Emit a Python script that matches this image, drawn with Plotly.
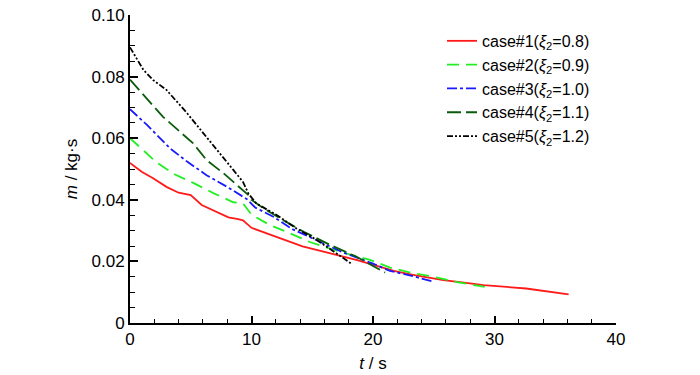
import plotly.graph_objects as go

# ---- data ----
t1 = [0, 0.96, 1.9, 3.0, 4.0, 5.0, 5.9, 7.1, 8.1, 8.9, 9.3, 10.0, 10.7, 12.3, 14.2, 16.5, 18.7, 20.6, 21.7, 23.5, 25.8, 27.5, 29.1, 32.6, 36.1]
m1 = [0.052, 0.0491, 0.047, 0.0442, 0.0423, 0.0415, 0.0383, 0.0361, 0.0343, 0.0337, 0.0333, 0.0309, 0.0299, 0.0274, 0.0249, 0.0226, 0.0204, 0.0182, 0.0169, 0.0155, 0.0139, 0.0131, 0.0123, 0.0112, 0.0093]

t2 = [0, 1.0, 2.2, 3.7, 5.2, 6.9, 8.5, 9.3, 10.0, 11.5, 12.9, 14.8, 17.3, 19.75, 21.4, 23.0, 25.0, 26.9, 28.7, 29.2]
m2 = [0.060, 0.0565, 0.0521, 0.0482, 0.0455, 0.0421, 0.0392, 0.0388, 0.0352, 0.0318, 0.0296, 0.0263, 0.0231, 0.0205, 0.018, 0.0164, 0.015, 0.0133, 0.012, 0.0117]

t3 = [0, 1.4, 3.3, 4.7, 6.3, 8.0, 9.3, 9.6, 10.3, 11.8, 13.4, 15.4, 17.6, 20.0, 21.4, 23.0, 24.9]
m3 = [0.0694, 0.0643, 0.0567, 0.0524, 0.048, 0.0442, 0.041, 0.0403, 0.0375, 0.0345, 0.0304, 0.0269, 0.0228, 0.0193, 0.0169, 0.0155, 0.0135]

t4 = [0, 1.1, 2.7, 5.2, 6.3, 7.7, 8.8, 9.75, 10.0, 11.0, 12.6, 14.3, 16.5, 18.65, 20.0, 21.0]
m4 = [0.079, 0.074, 0.067, 0.0583, 0.0529, 0.0486, 0.0448, 0.0415, 0.040, 0.0372, 0.0334, 0.0296, 0.0253, 0.0215, 0.0185, 0.0164]

t5 = [0, 1.1, 1.9, 3.0, 4.7, 6.3, 7.4, 8.5, 9.3, 9.75, 10.4, 12.1, 13.7, 15.4, 17.0, 18.2]
m5 = [0.0895, 0.0822, 0.0789, 0.0757, 0.0681, 0.0605, 0.0551, 0.0497, 0.0458, 0.0420, 0.0388, 0.035, 0.0307, 0.0269, 0.0226, 0.0193]

names = ["case#1(<i>ξ</i><sub>2</sub>=0.8)", "case#2(<i>ξ</i><sub>2</sub>=0.9)",
         "case#3(<i>ξ</i><sub>2</sub>=1.0)", "case#4(<i>ξ</i><sub>2</sub>=1.1)",
         "case#5(<i>ξ</i><sub>2</sub>=1.2)"]

y_tickvals = [0, 0.02, 0.04, 0.06, 0.08, 0.10]
y_ticktext = ["0", "0.02", "0.04", "0.06", "0.08", "0.10"]
x_tickvals = [0, 10, 20, 30, 40]

FONT = "Liberation Sans, Arial, sans-serif"

colors = ["#ff1a1a", "#22ee22", "#1a1aff", "#0a5c0a", "#000000"]
dashes = ["solid", "12px,7px", "10px,3px,3px,3px", "14px,5px", "6px,2px,2px,2px,2px,2px"]

fig = go.Figure()
for t, m, n, c, d in zip([t1, t2, t3, t4, t5], [m1, m2, m3, m4, m5], names, colors, dashes):
    fig.add_trace(go.Scatter(x=t, y=m, mode="lines", name=n,
                             line=dict(color=c, width=1.8, dash=d)))

fig.update_layout(
    width=700, height=375,
    margin=dict(l=130, r=84, t=15, b=52, autoexpand=False),
    paper_bgcolor="white", plot_bgcolor="white",
    font=dict(family=FONT, size=17, color="#000000"),
    showlegend=True,
    legend=dict(x=0.642, y=0.971, xanchor="left", yanchor="top",
                bgcolor="rgba(0,0,0,0)", font=dict(size=16, family=FONT),
                tracegroupgap=0),
)
fig.update_xaxes(
    range=[0, 40], tickmode="array", tickvals=x_tickvals, automargin=False,
    ticklabeloverflow="allow",
    showline=True, linecolor="black", linewidth=2, mirror=False,
    ticks="inside", ticklen=7, tickwidth=1.5, tickcolor="black",
    minor=dict(ticks="inside", ticklen=4, tickwidth=1.2, tickcolor="black", dtick=2, tick0=0),
    showgrid=False, zeroline=False,
    title=dict(text="<i>t</i> / s", font=dict(size=17, family=FONT), standoff=9),
)
fig.update_yaxes(
    range=[0, 0.10], tickmode="array", tickvals=y_tickvals, ticktext=y_ticktext, automargin=False,
    ticklabeloverflow="allow",
    showline=True, linecolor="black", linewidth=2, mirror=False,
    ticks="inside", ticklen=8, tickwidth=1.5, tickcolor="black",
    minor=dict(ticks="inside", ticklen=5, tickwidth=1.2, tickcolor="black", dtick=0.005, tick0=0),
    showgrid=False, zeroline=False,
    title=dict(text="<i>m</i> / kg·s", font=dict(size=17, family=FONT), standoff=10),
)

fig.write_html("out.html", config={"displayModeBar": False},
               post_script="document.body.style.margin='0';")
